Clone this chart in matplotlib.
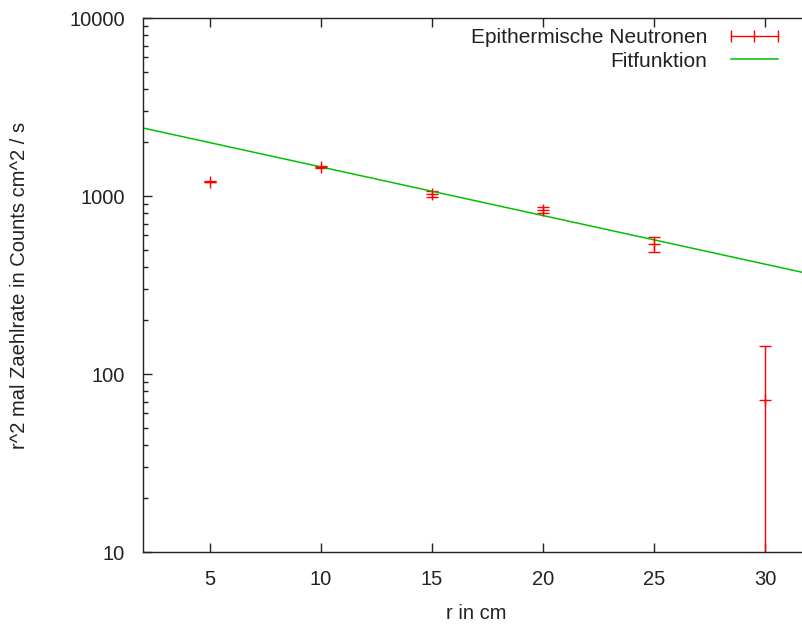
"""Epithermische Neutronen: r^2 * Zaehlrate vs. r, log scale, with fit line."""

import matplotlib
matplotlib.use("Agg")
import matplotlib.pyplot as plt
from matplotlib.lines import Line2D

plt.rcParams["font.family"] = ["Liberation Sans", "DejaVu Sans"]

# ── Data ──────────────────────────────────────────────────────────────────
r_cm = [5, 10, 15, 20, 25, 30]
rate = [1203, 1460, 1026, 831, 536, 71]
rate_err = [12, 20, 43, 33, 51, 73]

# fit line (straight in log space) – endpoints at the axis limits
fit_r = [2, 31.7]
fit_y = [2410, 372]

xticks = [5, 10, 15, 20, 25, 30]
yticks = [10, 100, 1000, 10000]

RED = "#ff0000"
GREEN = "#00c000"
TXT = "#222222"
FS = 14.5

fig = plt.figure(figsize=(8.03, 6.28), dpi=100)
ax = fig.add_axes([143 / 803, 1 - 552 / 628, (809.6 - 143) / 803, (552 - 18) / 628])

ax.errorbar(r_cm, rate, yerr=rate_err, fmt="+", color=RED, ecolor=RED,
            elinewidth=1.0, capsize=4.5, capthick=1.0, markersize=9, mew=1.0)
ax.plot(fit_r, fit_y, color=GREEN, lw=1.1)

ax.set_yscale("log")
ax.set_xlim(2, 32)
ax.set_ylim(10, 10000)
ax.set_xticks(xticks)
ax.set_xticklabels([str(t) for t in xticks])
ax.set_yticks(yticks)
ax.set_yticklabels([str(t) for t in yticks])
ax.minorticks_off()
ax.yaxis.set_minor_locator(matplotlib.ticker.LogLocator(base=10, subs=range(2, 10)))
ax.yaxis.set_minor_formatter(matplotlib.ticker.NullFormatter())

ax.tick_params(which="both", direction="in", top=True, right=False,
               color=TXT, labelsize=FS, labelcolor=TXT)
ax.tick_params(which="major", length=6.5, width=1.0)
ax.tick_params(which="minor", length=3.5, width=1.0)
ax.tick_params(axis="x", pad=13)
ax.tick_params(axis="y", pad=13)
for sp in ax.spines.values():
    sp.set_color(TXT)
    sp.set_linewidth(1.0)

ax.set_xlabel("r in cm", fontsize=FS, color=TXT, labelpad=11)
ax.set_ylabel("r^2 mal Zaehlrate in Counts cm^2 / s", fontsize=FS, color=TXT, labelpad=29)

handles = [
    Line2D([0, 1, 2], [0, 0, 0], color=RED, lw=1.0, marker="|", markersize=8, mew=1.0),
    Line2D([0], [0], color=GREEN, lw=1.1),
]
ax.legend(handles, ["Epithermische Neutronen", "Fitfunktion"], loc="upper right",
          bbox_to_anchor=(0.9616, 0.981), frameon=False, markerfirst=False,
          numpoints=3, fontsize=15, handlelength=2.85, handletextpad=0.85,
          borderpad=0, borderaxespad=0, labelspacing=0.22, labelcolor=TXT)

fig.savefig("out.png", dpi=100)
